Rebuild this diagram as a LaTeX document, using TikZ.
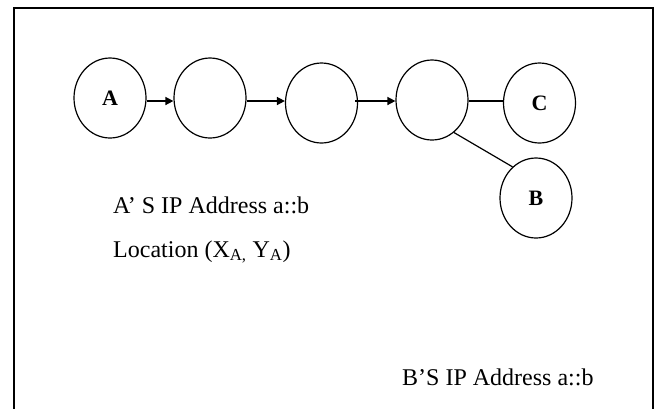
\documentclass[tikz,border=0pt]{standalone}
\usepackage{fontspec}
\setmainfont{Liberation Serif}
\usetikzlibrary{shapes.geometric, arrows.meta}

\begin{document}
\begin{tikzpicture}[x=1pt, y=-1pt,
    host/.style={draw, ellipse, line width=1.2pt, minimum width=72pt, minimum height=80pt,
                 inner sep=0pt, font=\fontsize{22}{26}\selectfont\bfseries},
    hop/.style={line width=1.5pt, -{Triangle[length=8pt,width=8pt]}},
    link/.style={line width=1.2pt},
    caption/.style={anchor=base west, inner sep=0pt, font=\fontsize{24}{29}\selectfont}]
    \useasboundingbox (0,0) rectangle (655,408);

    % frame
    \draw[line width=2pt] (14,412) -- (14,8) -- (653,8) -- (653,412);

    % hosts
    \node[host] (A) at (110,98) {A};
    \node[host] (R1) at (210,98) {};
    \node[host] (R2) at (321.5,103) {};
    \node[host] (R3) at (432,100) {};
    \node[host] (C) at (539.5,103) {C};
    \node[host] (B) at (536,198) {B};

    % the route runs level
    \coordinate (row) at (0,101);

    \draw[hop] (A.east |- row) -- (R1.west |- row);
    \draw[hop] (R1.east |- row) -- (R2.west |- row);
    \draw[hop] ([xshift=-3pt]R2.east |- row) -- (R3.west |- row);

    \draw[link] (R3.east |- row) -- (C.west |- row);
    \draw[link] (R3.-56) -- (B.127);

    % addresses
    \node[caption] (ipA) at (113,213) {A’ S IP Address a::b};
    \node[caption] (locA) at (113,257) {Location (X\textsubscript{A,} Y\textsubscript{A})};
    \node[caption] (ipB) at (402,385) {B’S IP Address a::b};
\end{tikzpicture}
\end{document}
